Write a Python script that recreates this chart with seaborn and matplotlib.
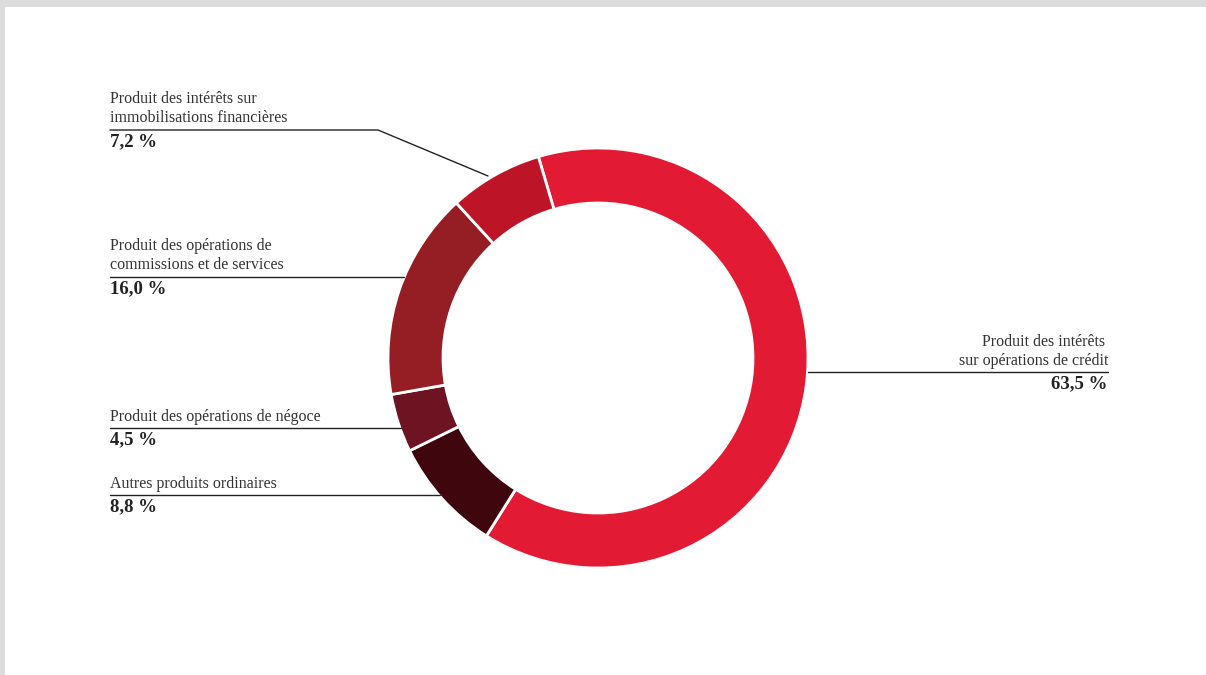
import matplotlib
matplotlib.use("Agg")
import matplotlib.pyplot as plt
from matplotlib.patches import Rectangle
import seaborn as sns

# Income breakdown (share of total, %)
categories = [
    "Produit des intérêts\nsur opérations de crédit",
    "Autres produits ordinaires",
    "Produit des opérations de négoce",
    "Produit des opérations de\ncommissions et de services",
    "Produit des intérêts sur\nimmobilisations financières",
]
shares = [63.5, 8.8, 4.5, 16.0, 7.2]
value_labels = ["63,5 %", "8,8 %", "4,5 %", "16,0 %", "7,2 %"]
colors = ["#e31a33", "#40060d", "#6e1322", "#951e25", "#bd1527"]

sns.set_theme(style="white")
plt.rcParams["font.family"] = ["Liberation Serif", "DejaVu Serif"]

W, H = 1206, 675
fig = plt.figure(figsize=(W / 100, H / 100), dpi=100, facecolor="#dcdcdc")
ax = fig.add_axes([0, 0, 1, 1])
ax.set_facecolor("none")


def Y(y):
    # convert top-down pixel rows to axis units
    return H - y


# white page area
ax.add_patch(Rectangle((5, 0), W - 5, H - 7, facecolor="white", edgecolor="none", zorder=0))

cx, cy, r_out, ring = 598, 358, 210, 55
ax.pie(
    shares,
    colors=colors,
    startangle=106.5,
    counterclock=False,
    radius=r_out,
    center=(cx, Y(cy)),
    wedgeprops=dict(width=ring, edgecolor="white", linewidth=2.0),
)
ax.set_xlim(0, W)
ax.set_ylim(0, H)
ax.set_aspect("auto")
ax.axis("off")

line_kw = dict(color="#222222", lw=1.0, zorder=3)
name_kw = dict(fontsize=11.5, color="#333333")
val_kw = dict(fontsize=13.5, fontweight="bold", color="#222222")

# left-side labels: (index, first text line centre, rule y, rule end points)
left = [
    (4, 99, 130, [(110, 130), (378, 130), (488, 176)]),
    (3, 246, 277, [(110, 277), (404, 277)]),
    (2, 417, 428, [(110, 428), (401, 428)]),
    (1, 484, 495, [(110, 495), (440, 495)]),
]
for idx, y0, yl, pts in left:
    lines = categories[idx].split("\n")
    for k, t in enumerate(lines):
        ax.text(110, Y(y0 + 19 * k), t, ha="left", va="center", **name_kw)
    xs = [p[0] for p in pts]
    ys = [Y(p[1]) for p in pts]
    ax.plot(xs, ys, **line_kw)
    ax.text(110, Y(yl + 12), value_labels[idx], ha="left", va="center", **val_kw)

# right-side label
lines = categories[0].split("\n")
ax.text(1105, Y(342), lines[0], ha="right", va="center", **name_kw)
ax.text(1108, Y(361), lines[1], ha="right", va="center", **name_kw)
ax.plot([808, 1108], [Y(372), Y(372)], **line_kw)
ax.text(1107, Y(384), value_labels[0], ha="right", va="center", **val_kw)

fig.savefig("out.png", dpi=100, facecolor=fig.get_facecolor())
